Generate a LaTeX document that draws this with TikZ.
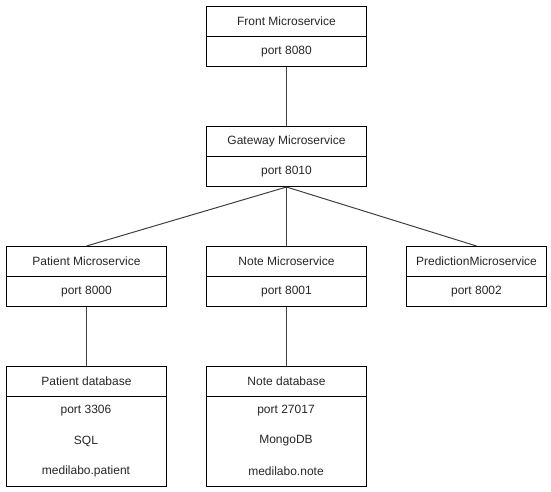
\documentclass[tikz,border=0pt]{standalone}
\usepackage{fontspec}
\setmainfont{Liberation Sans}
\begin{document}
\begin{tikzpicture}[x=1pt,y=-1pt,
  cell/.style={draw=black, line width=1pt, minimum height=30pt, inner sep=0pt,
    font=\fontsize{12}{14}\selectfont, anchor=north west, text=black!85},
  wide/.style={minimum width=160pt},
  narrow/.style={minimum width=140pt},
  tall/.style={minimum height=90pt},
  rowtext/.style={inner sep=0pt, font=\fontsize{12}{14}\selectfont, text=black!85},
  conn/.style={draw=black!75, line width=1pt}]
\useasboundingbox (0,0) rectangle (551,491);
% Front
\node[cell,wide] (fronth) at (206,6) {Front Microservice};
\node[cell,wide] (frontb) at (206,36) {port 8080};
% Gateway
\node[cell,wide] (gateh) at (206,126) {Gateway Microservice};
\node[cell,wide] (gateb) at (206,156) {port 8010};
% Patient
\node[cell,wide] (path) at (6,246) {Patient Microservice};
\node[cell,wide] (patb) at (6,276) {port 8000};
% Note
\node[cell,wide] (noteh) at (206,246) {Note Microservice};
\node[cell,wide] (noteb) at (206,276) {port 8001};
% Prediction
\node[cell,narrow] (predh) at (406,246) {PredictionMicroservice};
\node[cell,narrow] (predb) at (406,276) {port 8002};
% Patient database
\node[cell,wide] (pdbh) at (6,366) {Patient database};
\node[cell,wide,tall] (pdbb) at (6,396) {};
\node[rowtext] (pdb1) at (86,411) {port 3306};
\node[rowtext] (pdb2) at (86,441) {SQL};
\node[rowtext] (pdb3) at (86,471) {medilabo.patient};
% Note database
\node[cell,wide] (ndbh) at (206,366) {Note database};
\node[cell,wide,tall] (ndbb) at (206,396) {};
\node[rowtext] (ndb1) at (286,411) {port 27017};
\node[rowtext] (ndb2) at (286,441) {MongoDB};
\node[rowtext] (ndb3) at (286,471) {medilabo.note};
% Connectors
\draw[conn] (frontb.south) -- (gateh.north);
\draw[conn] (gateb.south) -- (path.north);
\draw[conn] (gateb.south) -- (noteh.north);
\draw[conn] (gateb.south) -- (predh.north);
\draw[conn] (patb.south) -- (pdbh.north);
\draw[conn] (noteb.south) -- (ndbh.north);
\end{tikzpicture}
\end{document}
